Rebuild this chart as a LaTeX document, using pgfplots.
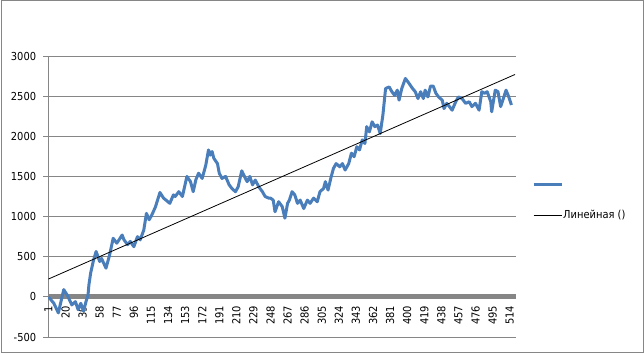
\documentclass[border=0pt]{standalone}
\usepackage{fontspec}
\setmainfont{DejaVu Sans Condensed}
\usepackage{pgfplots}
\pgfplotsset{compat=1.18}
\definecolor{axisgray}{RGB}{134,134,134}
\definecolor{serblue}{RGB}{74,126,187}
\begin{document}
\fontsize{11pt}{13pt}\selectfont
\begin{tikzpicture}[x=1pt,y=1pt]
\useasboundingbox (0,0) rectangle (644,353);
\draw[axisgray, line width=1pt] (1,1) rectangle (643,352);
\begin{axis}[
  at={(48pt,16pt)}, anchor=south west,
  scale only axis, width=467.5pt, height=281pt,
  xmin=0.5, xmax=520.5, ymin=-500, ymax=3000,
  axis x line=middle, axis y line=left,
  axis line style={-},
  x axis line style={axisgray, line width=5pt},
  y axis line style={axisgray, line width=0.8pt},
  hide obscured x ticks=false, hide obscured y ticks=false,
  ytick={-500,0,500,1000,1500,2000,2500,3000},
  xtick={1,20,...,514},
  ymajorgrids, grid style={axisgray, line width=0.8pt},
  tick align=outside, major tick length=5pt,
  xtick style={draw=none},
  ytick style={axisgray, line width=0.8pt},
  scaled y ticks=false,
  /pgf/number format/1000 sep={},
  /pgf/number format/assume math mode=true,
  ticklabel style={font=\fontsize{11pt}{13pt}\selectfont},
  yticklabel style={xshift=-3pt},
  xticklabel style={rotate=90, anchor=east},
  legend style={draw=none, fill=none, at={(1.0353,0.482)}, anchor=west,
    inner sep=0pt, row sep=24pt, nodes={inner sep=0pt, anchor=west},
    font=\fontsize{11pt}{13pt}\selectfont},
  legend cell align=left,
  legend image code/.code={\draw[#1] (0pt,0pt) -- (28pt,0pt);},
]
\addplot[serblue, line width=3pt, line join=round] coordinates {
(1,0) (7,-80) (12,-200) (18,90) (22,20) (27,-100) (31,-60) (34,-160) (37,-80) (40,-180)
(43,-50) (45,20) (46,150) (48,300) (51,450) (54,565) (58,440) (60,480) (65,357) (69,520)
(73,730) (77,668) (83,770) (85,710) (89,650) (92,690) (96,625) (100,750) (103,710) (107,830)
(110,1040) (113,960) (116,1020) (120,1120) (125,1300) (129,1230) (136,1165) (140,1270) (142,1250) (146,1310)
(150,1250) (155,1500) (159,1435) (162,1310) (165,1460) (168,1540) (172,1475) (176,1640) (179,1830) (181,1765)
(183,1810) (185,1725) (189,1660) (191,1540) (194,1475) (198,1500) (202,1395) (205,1350) (209,1310) (212,1370)
(216,1570) (219,1500) (222,1435) (225,1500) (228,1395) (231,1455) (235,1370) (239,1310) (242,1250) (246,1230)
(248,1230) (251,1205) (253,1060) (257,1185) (261,1125) (264,980) (267,1165) (269,1205) (272,1310) (275,1270)
(278,1165) (281,1205) (285,1100) (289,1205) (292,1165) (296,1230) (300,1185) (303,1310) (307,1350) (309,1435)
(312,1330) (315,1475) (318,1600) (321,1660) (325,1620) (328,1660) (331,1580) (335,1660) (338,1790) (341,1745)
(344,1870) (347,1830) (350,1955) (353,1910) (355,2120) (358,2055) (361,2180) (364,2120) (367,2140) (370,2035)
(373,2265) (376,2595) (380,2615) (383,2555) (386,2510) (389,2575) (391,2450) (394,2595) (398,2720) (402,2660)
(406,2595) (409,2555) (412,2470) (415,2555) (418,2470) (420,2575) (423,2490) (426,2625) (429,2625) (432,2535)
(435,2490) (439,2450) (441,2345) (444,2410) (447,2370) (450,2325) (454,2430) (457,2490) (461,2470) (465,2410)
(469,2430) (472,2370) (476,2410) (480,2325) (483,2555) (486,2535) (489,2555) (493,2430) (494,2305) (498,2575)
(501,2555) (504,2370) (507,2470) (510,2575) (513,2490) (516,2390)
};
\addlegendentry{}
\addplot[black, line width=0.8pt] coordinates {(1,222) (520,2770)};
\addlegendentry{Линейная ()}
\end{axis}
\end{tikzpicture}
\end{document}
